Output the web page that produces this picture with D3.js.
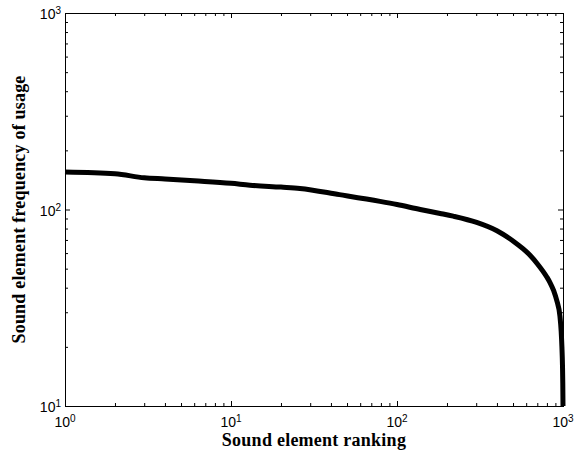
<!DOCTYPE html>
<html>
<head>
<meta charset="utf-8">
<script src="https://cdn.jsdelivr.net/npm/d3@7"></script>
<style>
  html, body { margin: 0; padding: 0; background: #fff; }
  svg { display: block; }
</style>
</head>
<body>
<svg id="chart" width="585" height="456"></svg>
<script>
// Rank-frequency curve of sound elements (log-log)
const ranks = [1, 2, 3, 4, 6, 10, 13, 20, 26, 45, 79, 100, 138, 182, 218, 302, 400, 502, 576, 633, 700, 797, 835, 880, 916, 959, 975, 985, 993, 997, 1000];
const freqs = [155, 152, 145, 143, 140, 136, 133, 130, 128, 119, 110, 106, 100, 95.5, 92.5, 86, 78, 69, 63, 58.5, 53, 45.5, 42.5, 38.5, 34.6, 28.5, 24, 20, 16, 13, 10];

const xMajor = [1, 10, 100, 1000];
const yMajor = [10, 100, 1000];
const xExponents = ["0", "1", "2", "3"];
const yExponents = ["1", "2", "3"];

const xTitle = "Sound element ranking";
const yTitle = "Sound element frequency of usage";

const margin = { left: 65, right: 22, top: 13, bottom: 50 };
const W = 585, H = 456;
const svg = d3.select("#chart");

const x = d3.scaleLog().domain([1, 1000]).range([margin.left, W - margin.right]);
const y = d3.scaleLog().domain([10, 1000]).range([H - margin.bottom, margin.top]);

const x0 = x.range()[0], x1 = x.range()[1];
const y0 = y.range()[0], y1 = y.range()[1];

const minorX = x.ticks().filter(v => !xMajor.includes(v));
const minorY = y.ticks().filter(v => !yMajor.includes(v));

const tickFont = "'Liberation Sans', Arial, sans-serif";
const titleFont = "'Liberation Serif', 'Times New Roman', serif";

// inward ticks on all four sides
function drawAxis(axisGen, transform) {
  const g = svg.append("g").attr("transform", transform).call(axisGen);
  g.select(".domain").remove();
  g.selectAll(".tick line").attr("stroke", "#000").attr("stroke-width", 1);
  g.selectAll("text").remove();
  return g;
}

drawAxis(d3.axisBottom(x).tickValues(xMajor).tickSize(-5), `translate(0,${y0})`);
drawAxis(d3.axisBottom(x).tickValues(minorX).tickSize(-3), `translate(0,${y0})`);
drawAxis(d3.axisTop(x).tickValues(xMajor).tickSize(-5), `translate(0,${y1})`);
drawAxis(d3.axisTop(x).tickValues(minorX).tickSize(-3), `translate(0,${y1})`);
drawAxis(d3.axisLeft(y).tickValues(yMajor).tickSize(-5), `translate(${x0},0)`);
drawAxis(d3.axisLeft(y).tickValues(minorY).tickSize(-3), `translate(${x0},0)`);
drawAxis(d3.axisRight(y).tickValues(yMajor).tickSize(-5), `translate(${x1},0)`);
drawAxis(d3.axisRight(y).tickValues(minorY).tickSize(-3), `translate(${x1},0)`);

// box
svg.append("rect")
  .attr("x", x0 + 0.5).attr("y", y1 + 0.5)
  .attr("width", x1 - x0).attr("height", y0 - y1)
  .attr("fill", "none").attr("stroke", "#000").attr("stroke-width", 1);

// tick labels with superscript exponents
function powerLabel(g, exp) {
  g.append("tspan").text("10");
  g.append("tspan").attr("dy", "-0.5em").attr("font-size", 10).text(exp);
}

xMajor.forEach((v, i) => {
  const t = svg.append("text")
    .attr("x", x(v)).attr("y", y0 + 21)
    .attr("text-anchor", "middle")
    .attr("font-family", tickFont).attr("font-size", 14).attr("fill", "#000");
  powerLabel(t, xExponents[i]);
});

yMajor.forEach((v, i) => {
  const t = svg.append("text")
    .attr("x", x0 - 4).attr("y", y(v) + 6)
    .attr("text-anchor", "end")
    .attr("font-family", tickFont).attr("font-size", 14).attr("fill", "#000");
  powerLabel(t, yExponents[i]);
});

// axis titles
svg.append("text")
  .attr("x", (x0 + x1) / 2).attr("y", 446)
  .attr("text-anchor", "middle")
  .attr("font-family", titleFont).attr("font-weight", "bold").attr("font-size", 18)
  .attr("letter-spacing", 0.25)
  .attr("fill", "#000").text(xTitle);

svg.append("text")
  .attr("transform", `translate(25,${(y0 + y1) / 2}) rotate(-90)`)
  .attr("text-anchor", "middle")
  .attr("font-family", titleFont).attr("font-weight", "bold").attr("font-size", 18)
  .attr("letter-spacing", 0.2)
  .attr("fill", "#000").text(yTitle);

// data curve
const data = ranks.map((r, i) => ({ r, f: freqs[i] }));
const line = d3.line()
  .x(d => x(d.r))
  .y(d => y(d.f))
  .curve(d3.curveMonotoneX);

svg.append("path")
  .datum(data)
  .attr("d", line)
  .attr("fill", "none")
  .attr("stroke", "#000")
  .attr("stroke-width", 5)
  .attr("stroke-linejoin", "round");
</script>
</body>
</html>
